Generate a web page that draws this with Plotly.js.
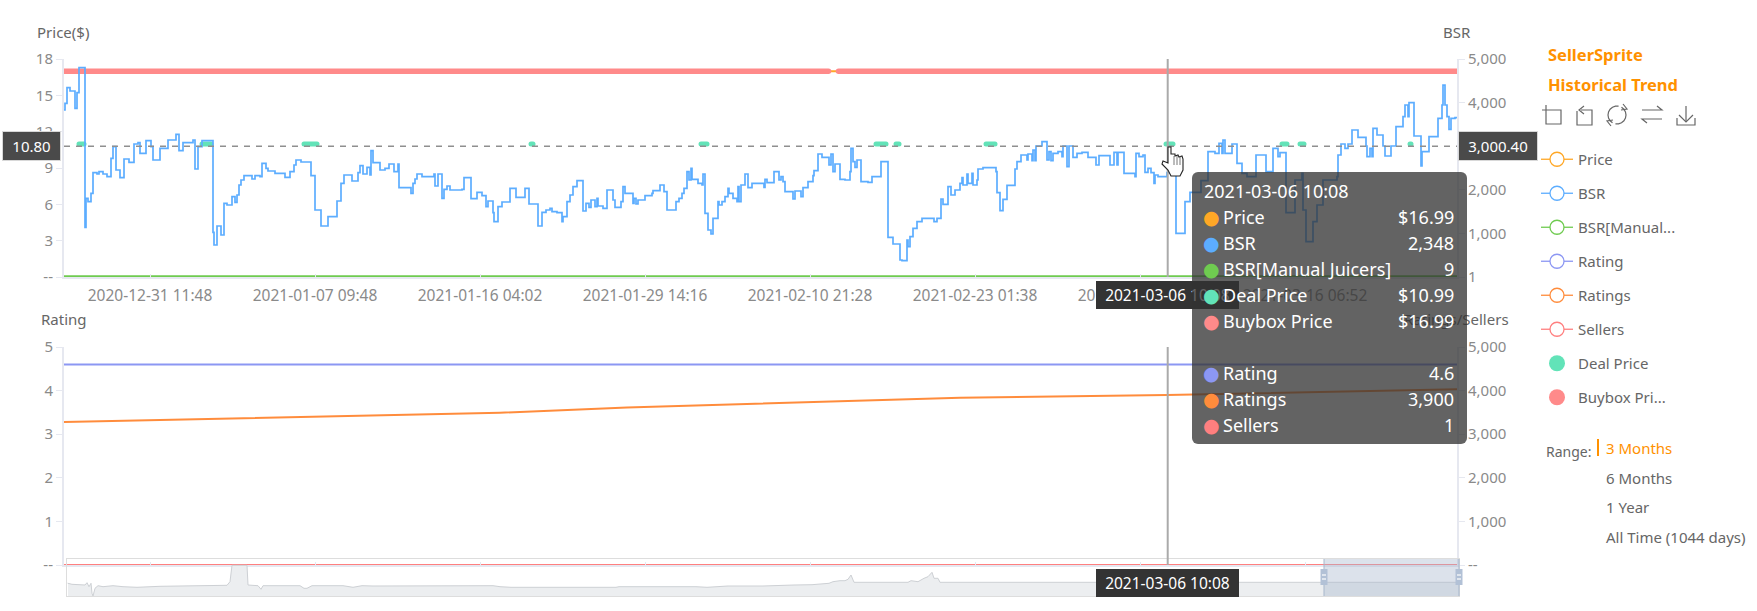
<!DOCTYPE html>
<html><head><meta charset="utf-8">
<script src="https://cdn.plot.ly/plotly-3.0.1.min.js"></script>
<style>
html,body{margin:0;padding:0;background:#fff;overflow:hidden}
.scatterlayer .js-line{stroke-linecap:round}
</style></head><body><div id="chart" style="width:1757px;height:611px"></div>
<script>
// ---------- data ----------
var tickSamples=[86,251,416,581,746,911,1076,1241];
var tickLabels=['2020-12-31 11:48','2021-01-07 09:48','2021-01-16 04:02','2021-01-29 14:16','2021-02-10 21:28','2021-02-23 01:38','2021-03-04 13:20','2021-03-16 06:52'];
var priceTicks=[0,3,6,9,12,15,18];
var priceTickText=['--','3','6','9','12','15','18'];
var bsrTicks=[0,1000,2000,3000,4000,5000];
var bsrTickText=['1','1,000','2,000','','4,000','5,000'];
var ratingTicks=[0,1,2,3,4,5];
var ratingTickText=['--','1','2','3','4','5'];
var sellerTicks=[0,1000,2000,3000,4000,5000];
var sellerTickText=['--','1,000','2,000','3,000','4,000','5,000'];

var bsrSample=[0,1,3,6,11,13,15,21,22,24,27,29,33,35,39,43,47,49,52,56,60,65,70,74,76,82,87,89,96,104,112,115,119,129,131,134,138,149,150,153,157,160,163,168,171,173,175,177,180,188,191,196,198,202,204,211,221,226,230,232,237,247,251,257,264,273,277,280,288,294,296,299,303,306,307,309,316,321,325,330,334,335,347,349,351,353,358,370,371,374,378,380,383,386,
398,400,407,413,418,422,424,429,430,434,438,446,452,461,465,474,478,482,486,488,493,498,499,503,506,509,513,519,522,525,527,531,533,534,539,543,549,551,557,559,561,569,570,572,574,581,588,589,596,600,603,612,615,618,620,623,625,627,628,634,638,639,641,644,647,649,654,655,658,661,664,665,669,673,674,675,677,681,684,688,700,701,703,710,715,717,719,721,729,731,737,739,744,749,750,754,758,765,767,769,771,776,781,786,787,789,791,793,797,804,808,817,824,829,836,
838,843,844,846,849,853,858,870,873,877,879,884,887,891,896,898,899,903,904,908,909,913,914,919,932,933,936,939,943,951,953,957,963,964,968,969,971,972,978,983,985,987,989,994,998,999,1003,1005,1009,1013,1018,1024,1032,1035,1046,1050,1053,1054,1060,1071,1072,1075,1079,1081,1084,1087,1090,1091,1094,1103,1112,1121,1126,1137,1144,1151,1155,1158,1159,1161,1168,1173,1178,1183,1192,1202,1209,1214,1216,1222,1231,1238,1239,1242,1249,1253,1259,1273,1274,1277,
1281,1284,1288,1294,1302,1303,1306,1308,1309,1313,1319,1321,1327,1332,1339,1341,1344,1345,1350,1357,1358,1365,1374,1378,1379,1381,1383,1385,1387,1391,1393];
var bsrValue=[3830,3983,4342,4266,3868,4228,4801,1139,1804,1728,1919,2393,2362,2416,2362,2301,2722,2989,2454,2278,2706,2630,3050,3081,2836,3127,2989,2683,2951,3142,3272,2897,3081,3142,2477,2989,3127,1024,734,1170,963,1690,1651,1842,1712,1881,2110,2225,2324,2248,2324,2301,2607,2492,2431,2378,2286,2416,2569,2683,2638,2324,1537,1170,1384,1743,2148,2339,2202,2393,2553,2362,2515,2339,2897,2622,2454,2492,2592,2416,2592,2049,1919,2148,2248,2362,2301,2362,2087,2362,1804,2011,2087,1995,
2011,2278,1797,1942,1865,1613,1743,1475,1269,1613,1720,2034,1827,2034,1674,1170,1483,1537,1575,1498,1475,1269,1384,1728,1881,2072,2209,1514,1690,1598,1766,1613,1804,1628,1575,1995,1766,1598,1728,2072,1919,1690,1804,1674,1766,1865,1919,1980,2110,1957,1537,1728,1804,1919,2034,2416,2225,2492,2240,2148,2110,2362,1460,1078,986,1346,1728,1651,1728,1842,2034,1919,1804,1728,2072,1728,2110,2362,2049,2148,2057,2240,2164,2416,2225,2301,2187,1957,1789,1972,1842,2049,2187,2324,2439,2821,2745,2569,2821,2416,2592,2240,2225,2416,2951,2645,2515,2683,2187,2171,2301,2645,910,757,390,
375,849,696,925,1116,1269,1346,1269,1346,1789,1667,2072,1881,1995,2148,2278,2110,2362,2148,2378,2110,2225,2477,2508,2416,1934,1521,1781,2102,2477,2645,2798,2683,2821,2668,2913,2668,3005,3104,2683,2875,2668,2836,2875,2760,3005,2530,3005,2745,2836,2859,2745,2569,2783,2569,2859,2569,2859,2378,2301,2836,2760,2798,2401,2492,2393,2148,2339,2301,2393,1001,1728,1942,2209,2875,2836,3066,2836,3142,2836,3050,2607,2378,2301,2798,2416,2951,2760,2852,1475,2225,2378,1537,810,1269,1651,2225,2301,2798,3050,
2951,3050,3371,3203,3005,2760,2951,2760,3410,3257,3005,2775,3005,3448,3677,3945,3677,3998,3234,2546,2875,3218,3639,3945,4403,3945,3677,3387,3639,3654,3654];

var priceSample=[0,1393];
var priceValue=[16.99,16.99];
var manualSample=[0,300,700,1103,1393];
var manualValue=[9,9,9,9,9];
var dealSample=[15,20,null,138,147,null,240,253,null,467,469,null,637,643,null,812,822,null,832,835,null,922,931,null,1102,1109,null,1218,1223,null,1236,1240,null,1346,1347];
var dealValue=[10.99,10.99,null,10.99,10.99,null,10.99,10.99,null,10.99,10.99,null,10.99,10.99,null,10.99,10.99,null,10.99,10.99,null,10.99,10.99,null,10.99,10.99,null,10.99,10.99,null,10.99,10.99,null,10.99,10.99];
var buyboxSample=[0,764.5,null,774.5,1393];
var buyboxValue=[16.99,16.99,null,16.99,16.99];
var ratingSample=[0,1393];
var ratingValue=[4.6,4.6];
var ratingsSample=[0,140,279,436,563,720,896,1103,1250,1393];
var ratingsValue=[3280,3350,3420,3493,3610,3725,3837,3900,3965,4030];
var sellersSample=[0,1393];
var sellersValue=[1,1];
var overviewDay=[1,5,18,20,22,24,25,26,28,31,36,46,56,70,93,120,160,163,165,180,181,191,194,196,233,237,240,245,276,286,295,306,426,433,444,549,552,629,640,661,696,727,745,762,766,773,778,781,784,787,841,844,851,857,861,865,867,871,873,1392];
var overviewValue=[12.7,11.7,11,13.3,9.3,12.7,2.7,0,7.7,10.3,9.3,10.3,9.3,8.7,9.7,10,10.7,14.3,30.7,30.7,11,10.3,6.7,10.3,10.3,7.7,7.7,10.3,10.3,8.7,10.3,10,10.3,9.3,8.7,8.7,9.3,9.3,8.7,10,10,11,11.3,12.7,14.3,15.3,15.3,16.7,21,13.7,13.7,15.3,14.3,17.7,19.3,23.7,17.7,17.7,13.7,13.7];
var cursorSample=1103.7, markerPrice=10.8;
var tipRows=[['Price','$16.99','#ffa726',217],['BSR','2,348','#5cadff',243],['BSR[Manual Juicers]','9','#6fcb50',269],['Deal Price','$10.99','#62e3b8',295],['Buybox Price','$16.99','#ff8a8a',321],['Rating','4.6','#8c97f3',373],['Ratings','3,900','#ff8c3c',399],['Sellers','1','#ff7f7f',425]];
var legendNames=['Price','BSR','BSR[Manual...','Rating','Ratings','Sellers'];
var legendColors=['#ffa726','#5cadff','#6fcb50','#8c97f3','#ff8c3c','#ff7f7f'];
var rangeLabels=['3 Months','6 Months','1 Year','All Time (1044 days)'];

// ---------- layout helpers ----------
var W=1757,H=611,FONT='"Noto Sans","Open Sans",sans-serif';
function fx(x){return x/W}
function fy(y){return 1-y/H}
function dom(a,b){return [fx(a),fx(b)]}
function domY(top,bot){return [fy(bot),fy(top)]}
function poly(pts,close){return pts.map(function(p,i){return (i?'L':'M')+fx(p[0])+','+fy(p[1])}).join(' ')+(close?' Z':'')}
function txt(text,x,y,color,size,anchor,extra){
  var a={xref:'paper',yref:'paper',x:fx(x),y:fy(y),text:text,showarrow:false,xanchor:anchor||'left',yanchor:'middle',
    font:{family:FONT,size:size||15,color:color||'#666'},borderpad:0,borderwidth:0};
  if(extra)for(var k in extra)a[k]=extra[k];
  return a;
}
function box(text,x0,x1,y0,y1,bg,border,size){
  return {xref:'paper',yref:'paper',x:fx((x0+x1)/2),y:fy((y0+y1)/2),text:text,showarrow:false,xanchor:'center',yanchor:'middle',
    width:x1-x0,height:y1-y0,bgcolor:bg,bordercolor:border||bg,borderwidth:border?1:0,borderpad:0,font:{family:FONT,size:size||15,color:'#fff'}};
}
function axisBase(){return {showgrid:false,zeroline:false,showline:true,linecolor:'#e6e8f0',linewidth:2,ticks:'outside',ticklen:6,tickcolor:'#e6e8f0',tickwidth:1,
  tickfont:{family:FONT,size:15,color:'#8a8a8a'},tickmode:'array',fixedrange:true}}
function yAxis(top,bot,range,vals,text,side,overlay,anchor){
  var a=axisBase();a.domain=domY(top,bot);a.range=range;a.tickvals=vals;a.ticktext=text;a.side=side;a.anchor=anchor;
  if(overlay)a.overlaying=overlay;return a;
}

// ---------- traces ----------
var traces=[
 {name:'Price',x:priceSample,y:priceValue,xaxis:'x',yaxis:'y',mode:'lines',line:{color:'#ffa726',width:2},showlegend:false},
 {name:'BSR[Manual Juicers]',x:manualSample,y:manualValue,xaxis:'x',yaxis:'y2',mode:'lines',line:{color:'#6fcb50',width:2.5},showlegend:false},
 {name:'BSR',x:bsrSample,y:bsrValue,xaxis:'x',yaxis:'y2',mode:'lines',line:{color:'#5cadff',width:1.7,shape:'hv'},showlegend:false},
 {name:'Deal Price',x:dealSample,y:dealValue,xaxis:'x',yaxis:'y',mode:'lines',line:{color:'#62e3b8',width:5},showlegend:false},
 {name:'Buybox Price',x:buyboxSample,y:buyboxValue,xaxis:'x',yaxis:'y',mode:'lines',line:{color:'#ff8a8a',width:5.5},cliponaxis:false,showlegend:false},
 {name:'Rating',x:ratingSample,y:ratingValue,xaxis:'x2',yaxis:'y3',mode:'lines',line:{color:'#8c97f3',width:2},showlegend:false},
 {name:'Ratings',x:ratingsSample,y:ratingsValue,xaxis:'x2',yaxis:'y4',mode:'lines',line:{color:'#ff8c3c',width:2},showlegend:false},
 {name:'Sellers',x:sellersSample,y:sellersValue,xaxis:'x2',yaxis:'y4',mode:'lines',line:{color:'#ff7f7f',width:2},cliponaxis:false,showlegend:false},
 {name:'Overview',x:overviewDay,y:overviewValue,xaxis:'x3',yaxis:'y5',mode:'lines',fill:'tozeroy',fillcolor:'#eceef0',line:{color:'#cdd0d4',width:1},showlegend:false}
];
legendNames.forEach(function(n,i){
  traces.push({name:n,x:[null],y:[null],xaxis:'x',yaxis:'y',mode:'lines+markers',legendgroup:n,line:{color:legendColors[i],width:1.3},
    marker:{symbol:'circle',size:14,color:'#fff',line:{color:legendColors[i],width:1.3}}});
});
[['Deal Price','#62e3b8'],['Buybox Pri...','#ff8a8a']].forEach(function(p){
  traces.push({name:p[0],x:[null],y:[null],xaxis:'x',yaxis:'y',mode:'markers',legendgroup:p[0],marker:{symbol:'circle',size:16,color:p[1]}});
});

// ---------- shapes ----------
var stroke={color:'#666',width:1.2};
var arcA=[],arcB=[];
for(var t=-60;t<=100;t+=20){arcA.push([1617+9*Math.cos(t*Math.PI/180),115+9*Math.sin(t*Math.PI/180)]);}
for(var t2=120;t2<=280;t2+=20){arcB.push([1617+9*Math.cos(t2*Math.PI/180),115+9*Math.sin(t2*Math.PI/180)]);}
function icon(pts){return {type:'path',xref:'paper',yref:'paper',path:poly(pts),line:stroke,fillcolor:'rgba(0,0,0,0)',layer:'above'}}
var shapes=[
 {type:'line',xref:'x',yref:'y',x0:0,x1:1393,y0:markerPrice,y1:markerPrice,line:{color:'#8f8f8f',width:1.6,dash:'6px,6px'},layer:'above'},
 {type:'line',xref:'x',yref:'y',x0:cursorSample,x1:cursorSample,y0:0,y1:18,line:{color:'#aaa',width:2},layer:'above'},
 {type:'line',xref:'x2',yref:'y3',x0:cursorSample,x1:cursorSample,y0:0,y1:5,line:{color:'#aaa',width:2},layer:'above'},
 {type:'rect',xref:'paper',yref:'paper',x0:fx(1324),x1:fx(1459),y0:fy(596),y1:fy(559),fillcolor:'rgba(167,183,204,0.4)',line:{width:0},layer:'above'},
 {type:'line',xref:'paper',yref:'paper',x0:fx(1324),x1:fx(1324),y0:fy(596),y1:fy(559),line:{color:'#a7b7cc',width:1},layer:'above'},
 {type:'line',xref:'paper',yref:'paper',x0:fx(1459),x1:fx(1459),y0:fy(596),y1:fy(559),line:{color:'#a7b7cc',width:1},layer:'above'}
];
[1324,1459].forEach(function(c){
  shapes.push({type:'rect',xref:'paper',yref:'paper',x0:fx(c-3.5),x1:fx(c+3.5),y0:fy(585),y1:fy(569),fillcolor:'#b2c1d6',line:{width:0},layer:'above'});
  [575,579].forEach(function(y){shapes.push({type:'line',xref:'paper',yref:'paper',x0:fx(c-2),x1:fx(c+2),y0:fy(y),y1:fy(y),line:{color:'#fff',width:1.2},layer:'above'});});
});
// toolbox icons
shapes.push(icon([[1546,105],[1546,124],[1561,124],[1561,110],[1542,110]]));
shapes.push(icon([[1577,111],[1577,125],[1592,125],[1592,110],[1581,110]]));
shapes.push(icon([[1584,106],[1579,110],[1584,114]]));
shapes.push(icon(arcA));shapes.push(icon(arcB));
shapes.push(icon([[1623,104],[1627,109],[1621,110]]));
shapes.push(icon([[1611,126],[1607,121],[1613,120]]));
shapes.push(icon([[1642,110],[1662,110],[1657,106]]));
shapes.push(icon([[1662,119],[1642,119],[1647,123]]));
shapes.push(icon([[1686,106],[1686,122]]));
shapes.push(icon([[1679,115],[1686,122],[1693,115]]));
shapes.push(icon([[1677,118],[1677,125],[1695,125],[1695,118]]));
// mouse pointer
shapes.push({type:'path',xref:'paper',yref:'paper',layer:'above',fillcolor:'#fff',line:{color:'#222',width:1.1},
 path:poly([[1168,147],[1171,147],[1171,154],[1175,154],[1175,156],[1178,155],[1179,157],[1182,156],[1183,159],[1183,170],[1180,176],[1171,176],[1168,170],[1162,164],[1163,161],[1168,163]],true)});
[1174,1177,1180].forEach(function(x){shapes.push({type:'line',xref:'paper',yref:'paper',x0:fx(x),x1:fx(x),y0:fy(165),y1:fy(156),line:{color:'#555',width:0.8},layer:'above'});});

// ---------- annotations (order is stacking order) ----------
var anns=[
 txt('Price($)',37,32,'#666',15),
 txt('BSR',1443,32,'#666',15),
 txt('Rating',41,319,'#666',15),
 txt('Ratings/Sellers',1509,319,'#666',15,'right'),
 txt('SellerSprite',1548,54,'#ff9100',16,'left',{font:{family:FONT,size:16.5,color:'#ff9100',weight:700}}),
 txt('Historical Trend',1548,84,'#ff9100',16,'left',{font:{family:FONT,size:16.5,color:'#ff9100',weight:700}}),
 txt('Range:',1546,451,'#666',14),
 txt(rangeLabels[0],1606,448,'#ff9100',15),
 txt(rangeLabels[1],1606,478,'#666',15),
 txt(rangeLabels[2],1606,507,'#666',15),
 txt(rangeLabels[3],1606,537,'#666',15),
 box('10.80',3,60,132,160,'#4a4a4a','#d8d8d8'),
 box('3,000.40',1459,1537,132,160,'#4a4a4a','#d8d8d8'),
 box('2021-03-06 10:08',1096,1239,281,309,'#333',null,15.5),
 box('2021-03-06 10:08',1096,1239,569,597,'#333',null,15.5)
];
shapes.push({type:'rect',xref:'paper',yref:'paper',x0:fx(1597),x1:fx(1599),y0:fy(456),y1:fy(439),fillcolor:'#ff9100',line:{width:0},layer:'above'});
var panelIndex=anns.length;
anns.push({xref:'paper',yref:'paper',x:fx(1329.5),y:fy(308),text:' ',showarrow:false,xanchor:'center',yanchor:'middle',width:275,height:272,bgcolor:'rgba(50,50,50,0.76)',borderpad:0,borderwidth:0,font:{size:10,color:'#fff'}});
anns.push(txt('2021-03-06 10:08',1204,191,'#fff',18));
tipRows.forEach(function(r){
  anns.push(txt('●',1211,r[3],r[2],20,'center',{font:{family:'"DejaVu Sans"',size:19,color:r[2]}}));
  anns.push(txt(r[0],1223,r[3],'#fff',18));
  anns.push(txt(r[1],1454,r[3],'#fff',18,'right'));
});

// ---------- layout ----------
var xMain=axisBase();
xMain.domain=dom(64,1457);xMain.range=[0,1393];xMain.tickvals=tickSamples;xMain.ticktext=tickLabels;xMain.anchor='y';xMain.ticks='inside';xMain.ticklen=3;xMain.ticklabelstandoff=3;xMain.tickfont={family:FONT,size:15.5,color:'#8a8a8a'};
var xLow=axisBase();
xLow.domain=dom(64,1457);xLow.range=[0,1393];xLow.tickvals=tickSamples;xLow.ticktext=tickSamples.map(function(){return ''});xLow.anchor='y3';xLow.ticks='inside';xLow.ticklen=3;xLow.showticklabels=false;
var layout={
 width:W,height:H,margin:{l:0,r:0,t:0,b:0,pad:0},paper_bgcolor:'#fff',plot_bgcolor:'rgba(0,0,0,0)',
 font:{family:FONT,color:'#666'},hovermode:false,
 xaxis:xMain,xaxis2:xLow,
 xaxis3:{domain:dom(67,1459),range:[0,1392],anchor:'y5',showgrid:false,zeroline:false,showline:true,mirror:true,linecolor:'#ddd',linewidth:1,ticks:'',showticklabels:false,fixedrange:true},
 yaxis:yAxis(59,277,[0,18],priceTicks,priceTickText,'left',null,'x'),
 yaxis2:yAxis(59,277,[0,5000],bsrTicks,bsrTickText,'right','y','x'),
 yaxis3:yAxis(347,565,[0,5],ratingTicks,ratingTickText,'left',null,'x2'),
 yaxis4:yAxis(347,565,[0,5000],sellerTicks,sellerTickText,'right','y3','x2'),
 yaxis5:{domain:domY(559,596),range:[0,37],anchor:'x3',showgrid:false,zeroline:false,showline:true,mirror:true,linecolor:'#ddd',linewidth:1,ticks:'',showticklabels:false,fixedrange:true},
 legend:{x:fx(1536),y:fy(143),xanchor:'left',yanchor:'top',bgcolor:'rgba(0,0,0,0)',borderwidth:0,font:{family:FONT,size:15,color:'#666'},tracegroupgap:11.5,itemwidth:32,itemclick:false,itemdoubleclick:false},
 showlegend:true,shapes:shapes,annotations:anns
};
var css=document.createElement('style');
css.textContent='.annotation[data-index="'+panelIndex+'"] rect.bg{rx:6px;ry:6px}';
document.head.appendChild(css);
Plotly.newPlot('chart',traces,layout,{displayModeBar:false,staticPlot:false});
</script></body></html>
